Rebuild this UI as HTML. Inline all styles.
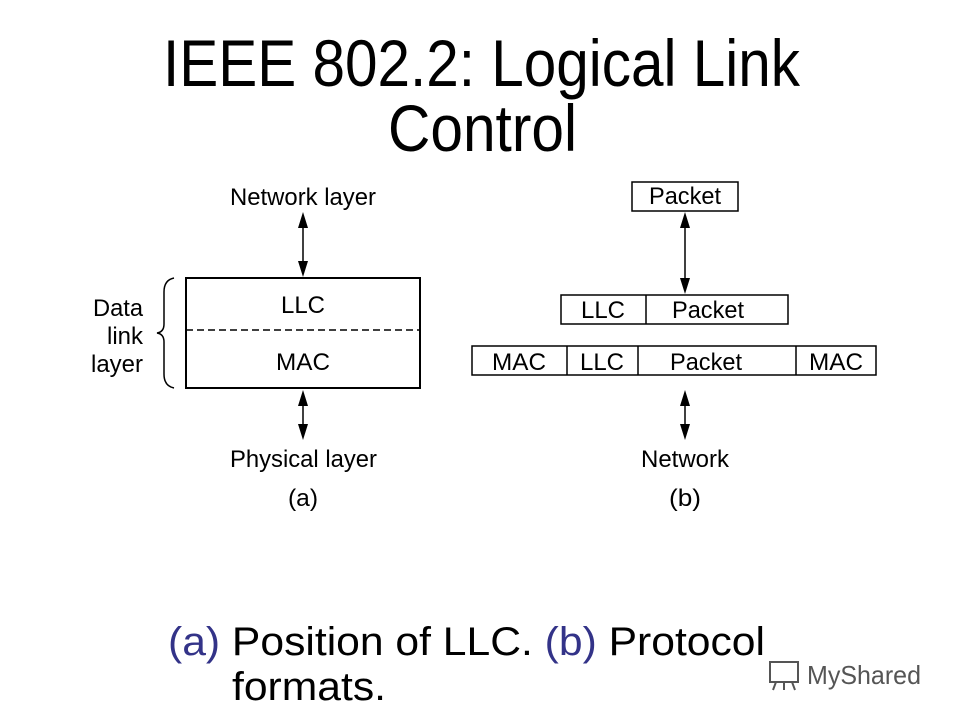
<!DOCTYPE html>
<html><head><meta charset="utf-8"><style>
html,body{margin:0;padding:0;background:#fff;}
svg{display:block;}
text{font-family:"Liberation Sans",Arial,sans-serif;fill:#000;}
</style></head><body>
<svg width="960" height="720" viewBox="0 0 960 720" xmlns="http://www.w3.org/2000/svg">
<!-- title -->
<text x="163" y="86" font-size="66" textLength="637" lengthAdjust="spacingAndGlyphs">IEEE 802.2: Logical Link</text>
<text x="388" y="151" font-size="66" textLength="189" lengthAdjust="spacingAndGlyphs">Control</text>

<!-- (a) -->
<text x="230" y="205" font-size="24" textLength="146" lengthAdjust="spacingAndGlyphs">Network layer</text>
<line x1="303" y1="220" x2="303" y2="266" stroke="#000" stroke-width="1.5"/>
<polygon points="303,212 298,228 308,228" fill="#000"/>
<polygon points="303,277 298,261 308,261" fill="#000"/>
<rect x="186" y="278" width="234" height="110" fill="none" stroke="#000" stroke-width="2"/>
<line x1="186" y1="330" x2="420" y2="330" stroke="#000" stroke-width="1.5" stroke-dasharray="7,4"/>
<text x="303" y="313" font-size="24" text-anchor="middle" textLength="44" lengthAdjust="spacingAndGlyphs">LLC</text>
<text x="303" y="370" font-size="24" text-anchor="middle" textLength="54" lengthAdjust="spacingAndGlyphs">MAC</text>
<text x="143" y="316" font-size="24" text-anchor="end" textLength="50" lengthAdjust="spacingAndGlyphs">Data</text>
<text x="143" y="344" font-size="24" text-anchor="end" textLength="36" lengthAdjust="spacingAndGlyphs">link</text>
<text x="143" y="372" font-size="24" text-anchor="end" textLength="52" lengthAdjust="spacingAndGlyphs">layer</text>
<path d="M174,278 Q164,280 164,292 L164,324 Q164,332 157,333 Q164,334 164,342 L164,374 Q164,386 174,388" fill="none" stroke="#000" stroke-width="1.5"/>
<line x1="303" y1="398" x2="303" y2="430" stroke="#000" stroke-width="1.5"/>
<polygon points="303,390 298,406 308,406" fill="#000"/>
<polygon points="303,440 298,424 308,424" fill="#000"/>
<text x="230" y="467" font-size="24" textLength="147" lengthAdjust="spacingAndGlyphs">Physical layer</text>
<text x="303" y="506" font-size="24" text-anchor="middle" textLength="30" lengthAdjust="spacingAndGlyphs">(a)</text>

<!-- (b) -->
<rect x="632" y="182" width="106" height="29" fill="none" stroke="#000" stroke-width="1.5"/>
<text x="685" y="204" font-size="24" text-anchor="middle" textLength="72" lengthAdjust="spacingAndGlyphs">Packet</text>
<line x1="685" y1="220" x2="685" y2="285" stroke="#000" stroke-width="1.5"/>
<polygon points="685,212 680,228 690,228" fill="#000"/>
<polygon points="685,294 680,278 690,278" fill="#000"/>
<rect x="561" y="295" width="227" height="29" fill="none" stroke="#000" stroke-width="1.5"/>
<line x1="646" y1="295" x2="646" y2="324" stroke="#000" stroke-width="1.5"/>
<text x="603" y="318" font-size="24" text-anchor="middle" textLength="44" lengthAdjust="spacingAndGlyphs">LLC</text>
<text x="708" y="318" font-size="24" text-anchor="middle" textLength="72" lengthAdjust="spacingAndGlyphs">Packet</text>
<rect x="472" y="346" width="404" height="29" fill="none" stroke="#000" stroke-width="1.5"/>
<line x1="567" y1="346" x2="567" y2="375" stroke="#000" stroke-width="1.5"/>
<line x1="638" y1="346" x2="638" y2="375" stroke="#000" stroke-width="1.5"/>
<line x1="796" y1="346" x2="796" y2="375" stroke="#000" stroke-width="1.5"/>
<text x="519" y="370" font-size="24" text-anchor="middle" textLength="54" lengthAdjust="spacingAndGlyphs">MAC</text>
<text x="602" y="370" font-size="24" text-anchor="middle" textLength="44" lengthAdjust="spacingAndGlyphs">LLC</text>
<text x="706" y="370" font-size="24" text-anchor="middle" textLength="72" lengthAdjust="spacingAndGlyphs">Packet</text>
<text x="836" y="370" font-size="24" text-anchor="middle" textLength="54" lengthAdjust="spacingAndGlyphs">MAC</text>
<line x1="685" y1="398" x2="685" y2="430" stroke="#000" stroke-width="1.5"/>
<polygon points="685,390 680,406 690,406" fill="#000"/>
<polygon points="685,440 680,424 690,424" fill="#000"/>
<text x="685" y="467" font-size="24" text-anchor="middle" textLength="88" lengthAdjust="spacingAndGlyphs">Network</text>
<text x="685" y="506" font-size="24" text-anchor="middle" textLength="32" lengthAdjust="spacingAndGlyphs">(b)</text>

<!-- caption -->
<text x="168" y="655" font-size="40" textLength="597" lengthAdjust="spacingAndGlyphs"><tspan fill="#333388" style="fill:#333388">(a)</tspan> Position of LLC. <tspan fill="#333388" style="fill:#333388">(b)</tspan> Protocol</text>
<text x="232" y="700" font-size="40" textLength="154" lengthAdjust="spacingAndGlyphs">formats.</text>

<!-- watermark -->
<g stroke="#555" stroke-width="2" fill="none">
<rect x="770" y="662" width="28" height="20"/>
<line x1="776" y1="682" x2="773" y2="690"/><line x1="784" y1="682" x2="784" y2="690"/><line x1="792" y1="682" x2="795" y2="690"/>
</g>
<text x="807" y="684" font-size="26" style="fill:#555" textLength="114" lengthAdjust="spacingAndGlyphs">MyShared</text>
</svg>
</body></html>
